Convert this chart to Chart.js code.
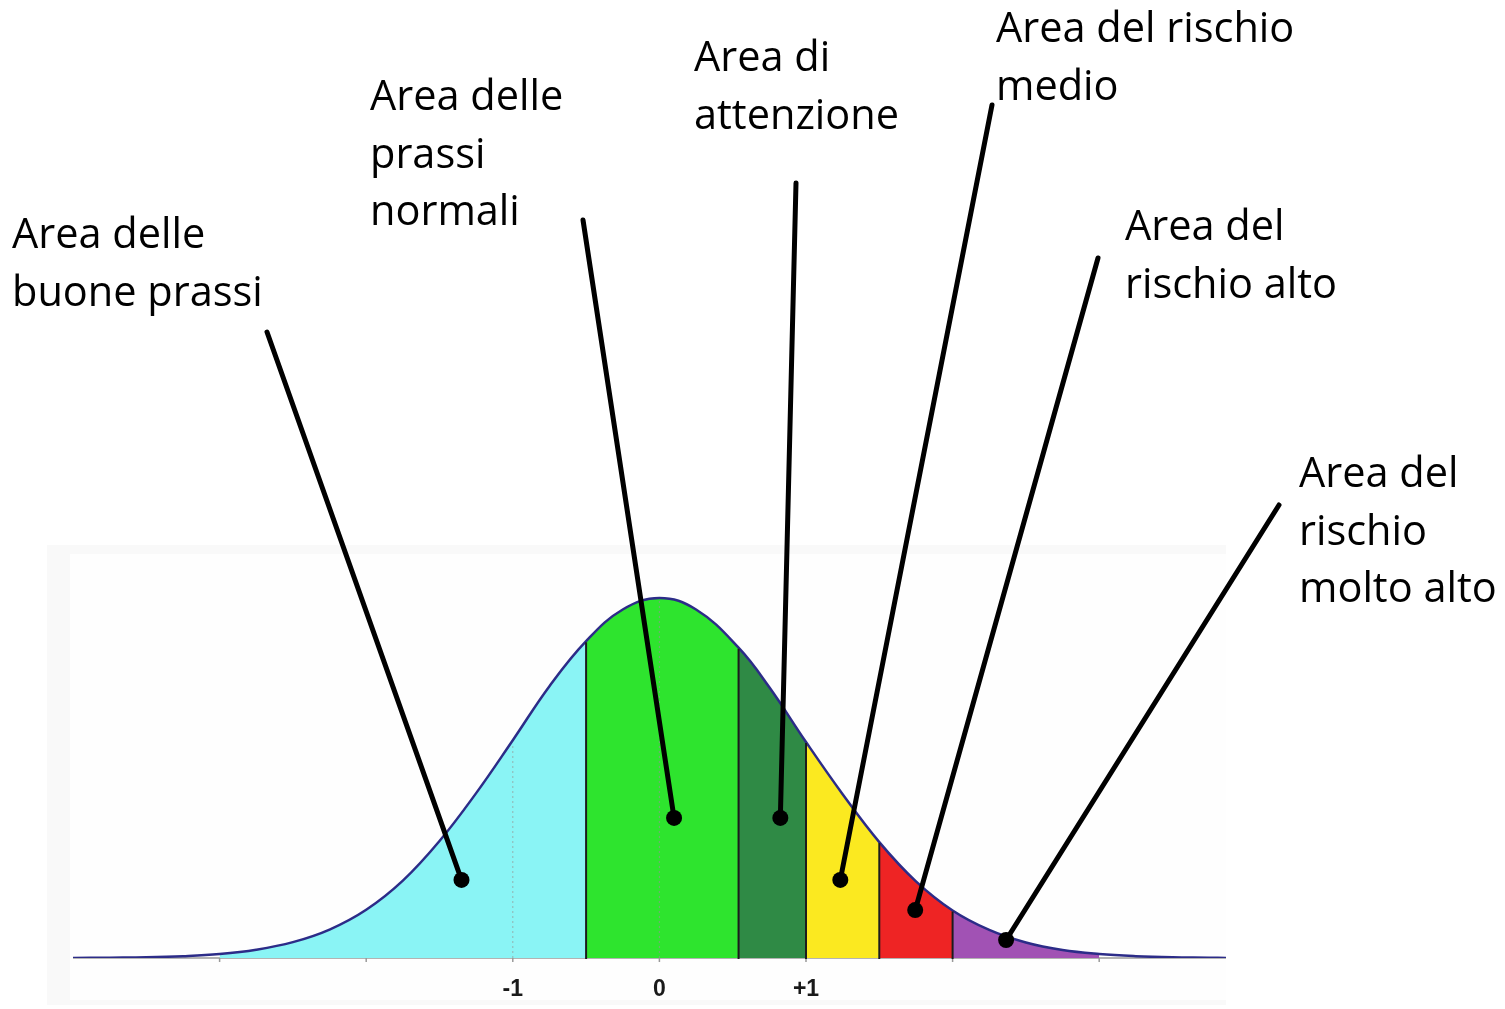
<!DOCTYPE html>
<html>
<head>
<meta charset="utf-8">
<script src="https://cdn.jsdelivr.net/npm/chart.js@4.4.1/dist/chart.umd.min.js"></script>
<style>
  html, body { margin: 0; padding: 0; background: #fff; }
</style>
</head>
<body>
<canvas id="chart" width="1505" height="1009"></canvas>
<script>
// z position on the axis (in standard deviations) and curve height (peak = 1)
const zValues = [-4, -3.75, -3.5, -3.25, -3, -2.75, -2.5, -2.25, -2, -1.75, -1.5, -1.25, -1, -0.75, -0.5, -0.25,
                 0, 0.25, 0.54, 0.75, 1, 1.25, 1.5, 1.75, 2, 2.25, 2.5, 2.75, 3, 3.25, 3.5, 3.75, 3.865];
const curveHeights = [0, 0.001, 0.002, 0.005, 0.011, 0.023, 0.044, 0.079, 0.134, 0.215, 0.325, 0.458, 0.605, 0.755, 0.88, 0.968,
                      1, 0.968, 0.862, 0.752, 0.6, 0.455, 0.322, 0.213, 0.132, 0.078, 0.043, 0.022, 0.011, 0.005, 0.002, 0.001, 0];

// coloured areas: edges on the z axis and fill colours
const bandEdges = [-3, -0.5, 0.54, 1, 1.5, 2, 3];
const bandColors = ['#8af4f5', '#2ee42e', '#2f8a45', '#fbe920', '#ee2424', '#a152b4'];

const tickValues = [-1, 0, 1];
const tickLabels = ['-1', '0', '+1'];

// callouts: text, where the pointer dot sits (z, height)
const calloutTexts = [
  ['Area delle', 'buone prassi'],
  ['Area delle', 'prassi', 'normali'],
  ['Area di', 'attenzione'],
  ['Area del rischio', 'medio'],
  ['Area del', 'rischio alto'],
  ['Area del', 'rischio', 'molto alto']
];
const calloutZ = [-1.35, 0.10, 0.825, 1.234, 1.745, 2.365];
const calloutH = [0.217, 0.389, 0.389, 0.217, 0.133, 0.05];

// layout of the callout text blocks and the top end of their pointer lines (pixels)
const calloutLayout = [
  { x: 12, y: 248, lineX: 267, lineY: 332 },
  { x: 370, y: 110, lineX: 583, lineY: 220 },
  { x: 694, y: 71, lineX: 796, lineY: 183 },
  { x: 996, y: 42, lineX: 992, lineY: 105 },
  { x: 1125, y: 240, lineX: 1098, lineY: 258 },
  { x: 1299, y: 487, lineX: 1279, lineY: 505 }
];

const curvePoints = zValues.map((z, i) => ({ x: z, y: curveHeights[i] }));

const bandSets = bandColors.map((color, i) => ({
  data: curvePoints.filter(p => p.x >= bandEdges[i] && p.x <= bandEdges[i + 1]),
  backgroundColor: color,
  borderWidth: 0,
  pointRadius: 0,
  fill: 'origin',
  tension: 0.4,
  order: 1
}));

function heightAt(z) {
  const i = zValues.indexOf(z);
  return i >= 0 ? curveHeights[i] : 0;
}

const decor = {
  id: 'decor',
  beforeDraw(chart) {
    const ctx = chart.ctx;
    ctx.save();
    ctx.fillStyle = '#f9f9f9';
    ctx.fillRect(47, 545, 1179, 460);
    ctx.fillStyle = '#fefefe';
    ctx.fillRect(70, 554, 1156, 446);
    ctx.restore();
  },
  beforeDatasetsDraw(chart) {
    const { ctx, scales: { x, y } } = chart;
    const base = y.getPixelForValue(0);
    ctx.save();
    ctx.strokeStyle = '#9a9a9a';
    ctx.lineWidth = 1.5;
    ctx.beginPath();
    ctx.moveTo(x.left, base);
    ctx.lineTo(x.right, base);
    for (let z = -3; z <= 3; z++) {
      const px = x.getPixelForValue(z);
      ctx.moveTo(px, base);
      ctx.lineTo(px, base + 4);
    }
    ctx.stroke();
    ctx.restore();
  },
  afterDatasetsDraw(chart) {
    const { ctx, scales: { x, y } } = chart;
    const base = y.getPixelForValue(0);
    ctx.save();
    // faint dotted guides at -1 and 0
    ctx.strokeStyle = 'rgba(150,150,150,0.7)';
    ctx.lineWidth = 1;
    ctx.setLineDash([2, 3]);
    [-1, 0].forEach(z => {
      const px = x.getPixelForValue(z);
      ctx.beginPath();
      ctx.moveTo(px, base);
      ctx.lineTo(px, y.getPixelForValue(heightAt(z)) + 3);
      ctx.stroke();
    });
    ctx.setLineDash([]);
    // black dividers between areas
    ctx.strokeStyle = '#1c1c1c';
    ctx.lineWidth = 2;
    bandEdges.slice(1, -1).forEach(z => {
      const px = x.getPixelForValue(z);
      ctx.beginPath();
      ctx.moveTo(px, base + 1);
      ctx.lineTo(px, y.getPixelForValue(heightAt(z)) + 1);
      ctx.stroke();
    });
    ctx.restore();
  },
  afterDraw(chart) {
    const { ctx, scales: { x, y } } = chart;
    ctx.save();
    calloutTexts.forEach((lines, i) => {
      const lay = calloutLayout[i];
      const dx = x.getPixelForValue(calloutZ[i]);
      const dy = y.getPixelForValue(calloutH[i]);
      ctx.strokeStyle = '#000';
      ctx.lineWidth = 5;
      ctx.lineCap = 'round';
      ctx.beginPath();
      ctx.moveTo(lay.lineX, lay.lineY);
      ctx.lineTo(dx, dy);
      ctx.stroke();
      ctx.fillStyle = '#000';
      ctx.beginPath();
      ctx.arc(dx, dy, 8, 0, Math.PI * 2);
      ctx.fill();

      ctx.font = '41.5px "Open Sans"';
      ctx.textBaseline = 'alphabetic';
      ctx.textAlign = 'left';
      lines.forEach((t, j) => ctx.fillText(t, lay.x, lay.y + j * 57.5));
    });
    ctx.restore();
  }
};

new Chart(document.getElementById('chart'), {
  type: 'line',
  data: {
    datasets: [
      {
        data: curvePoints,
        borderColor: '#2c2c88',
        borderWidth: 2.5,
        pointRadius: 0,
        fill: false,
        tension: 0.4,
        order: 0
      },
      ...bandSets
    ]
  },
  options: {
    responsive: false,
    animation: false,
    devicePixelRatio: 1,
    layout: { padding: { left: 73, right: 279, top: 0, bottom: 0 } },
    plugins: { legend: { display: false }, tooltip: { enabled: false } },
    scales: {
      x: {
        type: 'linear',
        min: -4,
        max: 3.865,
        afterBuildTicks: s => { s.ticks = tickValues.map(v => ({ value: v })); },
        afterFit: s => { s.height = 51; },
        grid: { display: false, drawTicks: false },
        border: { display: false },
        ticks: {
          autoSkip: false,
          maxRotation: 0,
          padding: 18,
          color: '#1a1a1a',
          font: { family: '"Liberation Sans", Arial, sans-serif', size: 23, weight: 'bold' },
          callback: v => tickLabels[tickValues.indexOf(v)] ?? ''
        }
      },
      y: {
        display: false,
        min: 0,
        max: 958 / 360
      }
    }
  },
  plugins: [decor]
});
</script>
</body>
</html>
